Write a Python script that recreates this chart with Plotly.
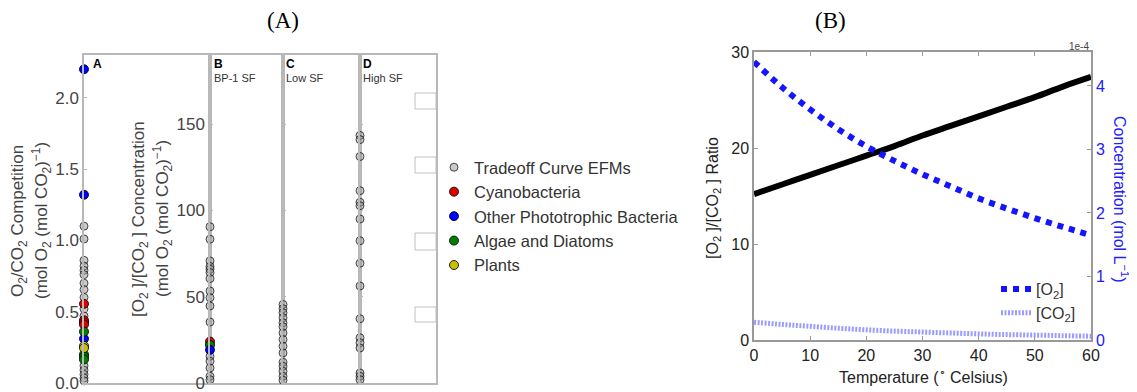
import plotly.graph_objects as go

W, H = 1137, 392
OFF = 8  # default page body margin
FW, FH = W - OFF, H - OFF

# ---------------- data (left figure) ----------------
A_efm = [1.10, 1.01, 0.86, 0.82, 0.79, 0.76, 0.70, 0.655, 0.60, 0.52, 0.47, 0.12, 0.09, 0.06, 0.035, 0.015]
A_cyano = [0.555, 0.44, 0.425, 0.41]
A_other = [2.20, 1.32, 0.31]
A_algae = [0.36, 0.20, 0.185, 0.165]
A_plants = [0.26, 0.245]

B_efm = [90.5, 83.3, 70.7, 67.5, 65.9, 64.0, 60.5, 53.3, 49.4, 44.6, 35.3, 15.5, 12.6, 8.7, 3.9, 1.9]
B_cyano = [24.0]
B_algae = [22.0]
B_other = [19.2]
C_efm = [45.5, 43.0, 40.7, 37.8, 34.9, 32.6, 29.0, 25.2, 21.3, 17.4, 12.0, 9.7, 6.8, 3.9, 1.6]
D_efm = [143.4, 141.0, 131.2, 111.4, 104.7, 102.7, 95.0, 82.4, 69.4, 56.2, 37.2, 26.2, 23.3, 20.3, 5.8, 3.9, 1.9]

A_ticks = [0, 0.5, 1.0, 1.5, 2.0]
A_ticktext = ["0.0", "0.5", "1.0", "1.5", "2.0"]
B_ticks = [0, 50, 100, 150]

# ---------------- data (right figure) ----------------
temperature = [0, 5, 10, 15, 20, 25, 30, 35, 40, 45, 50, 55, 60]
ratio = [15.2, 16.2, 17.2, 18.2, 19.2, 20.2, 21.3, 22.3, 23.3, 24.3, 25.3, 26.4, 27.4]
o2_conc = [4.38, 3.98, 3.63, 3.32, 3.05, 2.82, 2.61, 2.42, 2.23, 2.07, 1.92, 1.78, 1.65]   # x 1e-4
co2_conc = [0.28, 0.245, 0.215, 0.185, 0.16, 0.14, 0.125, 0.11, 0.096, 0.085, 0.077, 0.068, 0.06]  # x 1e-4
temp_ticks = [0, 10, 20, 30, 40, 50, 60]
ratio_ticks = [0, 10, 20, 30]
conc_ticks = [0, 1, 2, 3, 4]


def px(x):
    return (x - OFF) / FW


def py(y):
    return 1 - (y - OFF) / FH


SANS = "Liberation Sans, Arial, sans-serif"
FRAME = "#b8b8b8"

fig = go.Figure()

efm_style = dict(size=8, color="rgba(150,150,150,0.5)", line=dict(color="rgba(20,20,20,0.75)", width=1))


def col_style(c):
    return dict(size=9, color=c, line=dict(color="rgba(0,0,0,0.85)", width=1))


def add_pts(vals, ax, name, marker, show):
    fig.add_trace(go.Scatter(
        x=[0] * len(vals), y=vals, xaxis="x" + ax, yaxis="y" + ax,
        mode="markers", marker=marker, name=name, showlegend=show,
        legend="legend", cliponaxis=False, hoverinfo="y"))


# gray EFMs
add_pts(A_efm, "", "Tradeoff Curve EFMs", efm_style, True)
add_pts(B_efm, "2", "Tradeoff Curve EFMs", efm_style, False)
add_pts(C_efm, "3", "Tradeoff Curve EFMs", efm_style, False)
add_pts(D_efm, "4", "Tradeoff Curve EFMs", efm_style, False)
# organisms
add_pts(A_cyano, "", "Cyanobacteria", col_style("#e00000"), True)
add_pts(A_other, "", "Other Phototrophic Bacteria", col_style("#0000ff"), True)
add_pts(A_algae, "", "Algae and Diatoms", col_style("#008000"), True)
add_pts(A_plants, "", "Plants", col_style("#c8c000"), True)
add_pts(B_cyano, "2", "Cyanobacteria", col_style("#e00000"), False)
add_pts(B_algae, "2", "Algae and Diatoms", col_style("#008000"), False)
add_pts(B_other, "2", "Other Phototrophic Bacteria", col_style("#0000ff"), False)

# right figure
fig.add_trace(go.Scatter(x=temperature, y=ratio, xaxis="x5", yaxis="y5", mode="lines",
                         line=dict(color="black", width=6, shape="spline"), showlegend=False))
fig.add_trace(go.Scatter(x=temperature, y=o2_conc, xaxis="x5", yaxis="y6", mode="lines",
                         line=dict(color="rgb(20,20,255)", width=6, dash="dot", shape="spline"),
                         name="[O<sub>2</sub>]", legend="legend2"))
fig.add_trace(go.Scatter(x=temperature, y=co2_conc, xaxis="x5", yaxis="y6", mode="lines",
                         line=dict(color="rgba(90,90,255,0.6)", width=5, dash="2px,1.5px", shape="spline"),
                         name="[CO<sub>2</sub>]", legend="legend2"))

ydom_left = [py(383), py(55)]
hidden_x = dict(range=[0, 1], showticklabels=False, ticks="", showgrid=False, zeroline=False,
                showline=True, linecolor=FRAME, linewidth=1.5, mirror=True, fixedrange=True)
ybase = dict(showgrid=False, zeroline=False, showline=True, linecolor=FRAME, linewidth=1.5,
             mirror=True, ticks="inside", ticklen=3, tickcolor=FRAME, tickwidth=1)
tf_left = dict(family=SANS, size=17, color="#444")

layout = dict(
    width=FW, height=FH, margin=dict(l=0, r=0, t=0, b=0, pad=0, autoexpand=False),
    paper_bgcolor="white", plot_bgcolor="rgba(0,0,0,0)",
    font=dict(family=SANS, color="#333"),
    xaxis=dict(domain=[px(84), px(210)], anchor="y", **hidden_x),
    yaxis=dict(domain=ydom_left, anchor="x", range=[0, 2.30], tickvals=A_ticks, ticktext=A_ticktext,
               tickfont=tf_left, ticklabeloverflow="allow", **ybase),
    xaxis2=dict(domain=[px(210), px(283)], anchor="y2", **hidden_x),
    yaxis2=dict(domain=ydom_left, anchor="x2", range=[0, 190], tickvals=B_ticks, tickfont=tf_left,
                ticklabeloverflow="allow", **ybase),
    xaxis3=dict(domain=[px(283), px(360)], anchor="y3", **hidden_x),
    yaxis3=dict(domain=ydom_left, anchor="x3", range=[0, 190], tickvals=B_ticks, showticklabels=False, **ybase),
    xaxis4=dict(domain=[px(360), px(436)], anchor="y4", **hidden_x),
    yaxis4=dict(domain=ydom_left, anchor="x4", range=[0, 190], tickvals=B_ticks, showticklabels=False, **ybase),
    xaxis5=dict(domain=[px(754), px(1091)], anchor="y5", range=[0, 60], tickvals=temp_ticks,
                showgrid=False, zeroline=False, showline=True, linecolor="#999", linewidth=1.5,
                mirror="ticks", ticks="inside", ticklen=4, tickcolor="#999", ticklabeloverflow="allow",
                tickfont=dict(family=SANS, size=16, color="#222")),
    yaxis5=dict(domain=[py(340), py(52)], anchor="x5", range=[0, 30], tickvals=ratio_ticks,
                showgrid=False, zeroline=False, showline=True, linecolor="#999", linewidth=1.5,
                ticks="inside", ticklen=4, tickcolor="#999", ticklabeloverflow="allow",
                tickfont=dict(family=SANS, size=16, color="#222")),
    yaxis6=dict(overlaying="y5", anchor="x5", side="right", range=[0, 4.535], tickvals=conc_ticks,
                showgrid=False, zeroline=False, showline=True, linecolor="#999", linewidth=1.5,
                ticks="inside", ticklen=4, tickcolor="#999", ticklabeloverflow="allow",
                tickfont=dict(family=SANS, size=16, color="#2020ff")),
    legend=dict(x=px(434), y=py(150), xanchor="left", yanchor="top", bgcolor="rgba(0,0,0,0)",
                font=dict(family=SANS, size=16.5, color="#333"), itemsizing="trace", itemwidth=30,
                tracegroupgap=0),
    legend2=dict(x=px(996), y=py(272), xanchor="left", yanchor="top", bgcolor="rgba(0,0,0,0)",
                 font=dict(family=SANS, size=16, color="#333"), itemwidth=30, tracegroupgap=0),
    showlegend=True,
)
fig.update_layout(**layout)

ann = []


def add_text(x, y, text, size, color="#333", angle=0, xanchor="center", family=SANS, yanchor="middle"):
    ann.append(dict(x=px(x), y=py(y), xref="paper", yref="paper", text=text, showarrow=False,
                    xanchor=xanchor, yanchor=yanchor, textangle=angle,
                    font=dict(family=family, size=size, color=color)))


SERIF = "Liberation Serif, Times New Roman, serif"
add_text(283, 20, "(A)", 23, "black", family=SERIF)
add_text(830, 20, "(B)", 23, "black", family=SERIF)

add_text(19, 221, "O<sub>2</sub>/CO<sub>2</sub> Competition", 17, "#444", -90)
add_text(41, 221, "(mol O<sub>2</sub> (mol CO<sub>2</sub>)<sup>−1</sup>)", 17, "#444", -90)
add_text(140, 219, "[O<sub>2</sub> ]/[CO<sub>2</sub> ] Concentration", 17, "#444", -90)
add_text(162, 219, "(mol O<sub>2</sub> (mol CO<sub>2</sub>)<sup>−1</sup>)", 17, "#444", -90)

add_text(91, 64, "<b>A</b>", 12, "black", xanchor="left")
add_text(212, 64, "<b>B</b>", 12, "black", xanchor="left")
add_text(212, 78, "BP-1 SF", 11, "#333", xanchor="left")
add_text(284, 64, "<b>C</b>", 12, "black", xanchor="left")
add_text(284, 78, "Low SF", 11, "#333", xanchor="left")
add_text(361, 64, "<b>D</b>", 12, "black", xanchor="left")
add_text(361, 78, "High SF", 11, "#333", xanchor="left")

add_text(713, 198, "[O<sub>2</sub> ]/[CO<sub>2</sub> ] Ratio", 16, "#222", -90)
add_text(1121, 199, "Concentration (mol L<sup>−1</sup>)", 16, "#2020ff", 90)
add_text(923, 376, "Temperature (<sup>∘</sup> Celsius)", 16, "#222")
add_text(1091, 46, "1e-4", 10, "#444", xanchor="right")

fig.update_layout(annotations=ann)

shapes = []
for (y0, y1) in [(93, 109), (157, 173), (233, 250), (307, 322)]:
    shapes.append(dict(type="rect", xref="paper", yref="paper", x0=px(415), x1=px(436),
                       y0=py(y1), y1=py(y0), line=dict(color="#c0c0c0", width=1), fillcolor="white"))
fig.update_layout(shapes=shapes)

fig.write_html("out.html")
